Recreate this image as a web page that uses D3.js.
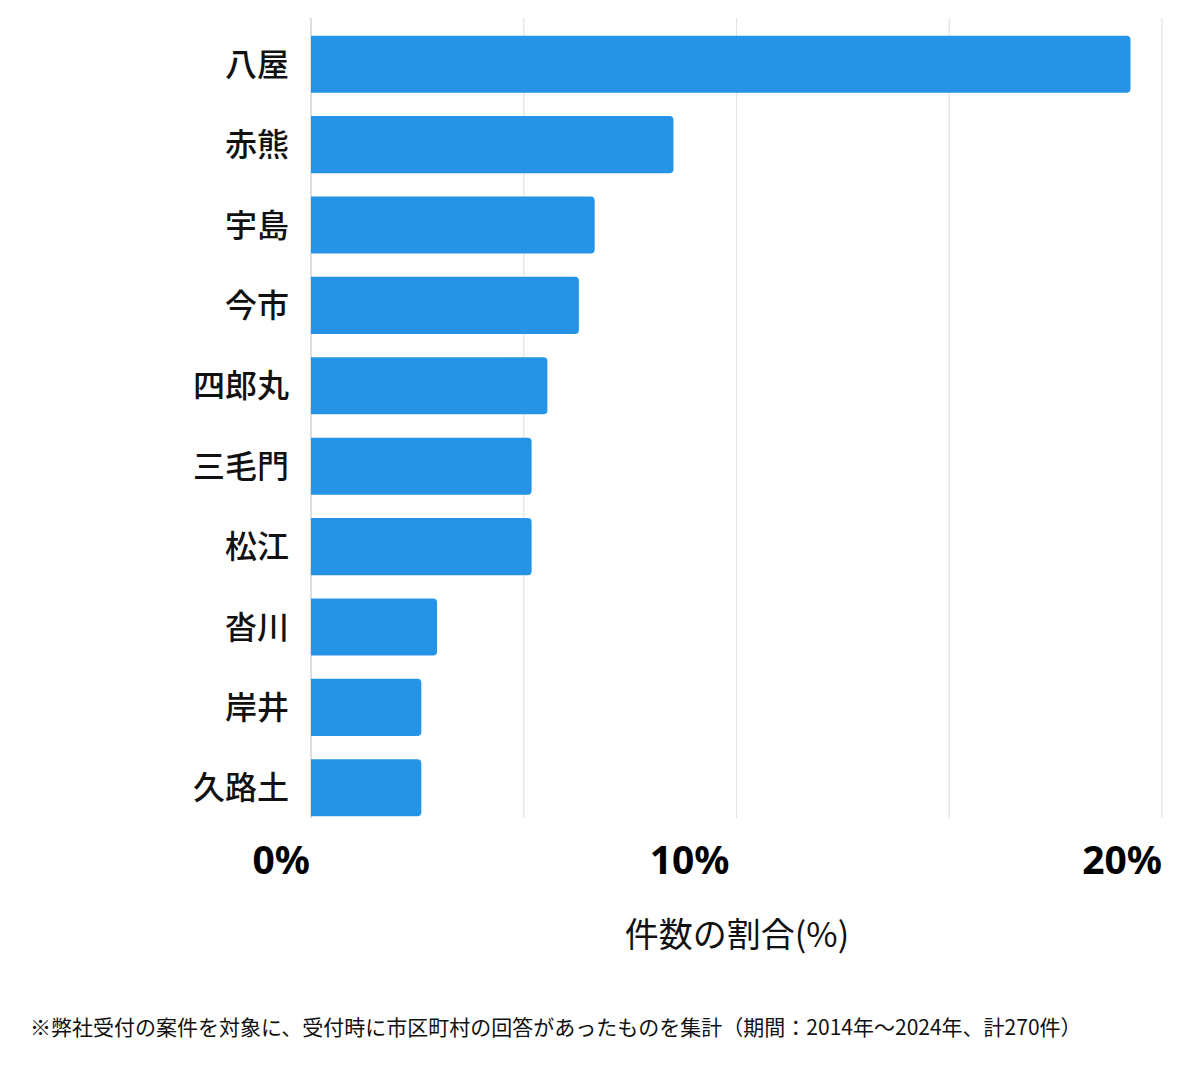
<!DOCTYPE html>
<html><head><meta charset="utf-8">
<script src="https://cdn.jsdelivr.net/npm/d3@7"></script>
<style>
html,body{margin:0;padding:0;background:#fff;}
svg{display:block;}
</style></head>
<body>
<svg id="chart" width="1200" height="1069"></svg>
<script>
const categories = ["八屋","赤熊","宇島","今市","四郎丸","三毛門","松江","沓川","岸井","久路土"];
const counts = [52,23,18,17,15,14,14,8,7,7];
const total = 270;
const tickValues = [0,10,20];
const tickLabels = ["0%","10%","20%"];
const gridValues = [0,5,10,15,20];
const axisTitle = "件数の割合(%)";
const footnote = "※弊社受付の案件を対象に、受付時に市区町村の回答があったものを集計（期間：2014年～2024年、計270件）";

const values = counts.map(c => c / total * 100);

const svg = d3.select("#chart");
const x = d3.scaleLinear().domain([0,20]).range([311,1162]);
const y = d3.scaleBand().domain(categories).range([18,834]).paddingInner(0.29).paddingOuter(0.22);

// gridlines
svg.append("g").selectAll("line").data(gridValues).join("line")
  .attr("x1", d => x(d)).attr("x2", d => x(d))
  .attr("y1", 18).attr("y2", 818)
  .attr("stroke", d => d === 0 ? "#c8c8c8" : "#e2e2e2")
  .attr("stroke-width", 1.2);

// bars with rounded right corners
const r = 4;
svg.append("g").selectAll("path").data(categories).join("path")
  .attr("fill", "#2594e6")
  .attr("d", (d,i) => {
    const x0 = x(0), x1 = x(values[i]), y0 = y(d), h = y.bandwidth();
    return `M${x0},${y0}H${x1-r}Q${x1},${y0} ${x1},${y0+r}V${y0+h-r}Q${x1},${y0+h} ${x1-r},${y0+h}H${x0}Z`;
  });

// category labels
svg.append("g").selectAll("text").data(categories).join("text")
  .attr("x", 289)
  .attr("y", d => y(d) + y.bandwidth()/2)
  .attr("dy", "0.36em")
  .attr("text-anchor", "end")
  .attr("font-family", "'Noto Sans CJK JP', sans-serif")
  .attr("font-weight", 500)
  .attr("font-size", 32)
  .attr("fill", "#111")
  .text(d => d);

// tick labels
const tickOffsets = [-1, -7, 0];
svg.append("g").selectAll("text").data(tickValues).join("text")
  .attr("x", (d,i) => x(d) + tickOffsets[i])
  .attr("y", 874)
  .attr("text-anchor", "end")
  .attr("font-family", "'Noto Sans', sans-serif")
  .attr("font-weight", 700)
  .attr("font-size", 39)
  .attr("fill", "#000")
  .text((d,i) => tickLabels[i]);

// axis title
svg.append("text")
  .attr("x", 737).attr("y", 947)
  .attr("text-anchor", "middle")
  .attr("font-family", "'Noto Sans CJK JP', sans-serif")
  .attr("font-size", 34)
  .attr("fill", "#111")
  .text(axisTitle);

// footnote
svg.append("text")
  .attr("x", 30).attr("y", 1035)
  .attr("font-family", "'Noto Sans CJK JP', sans-serif")
  .attr("font-size", 21)
  .attr("fill", "#111")
  .text(footnote);
</script>
</body></html>
